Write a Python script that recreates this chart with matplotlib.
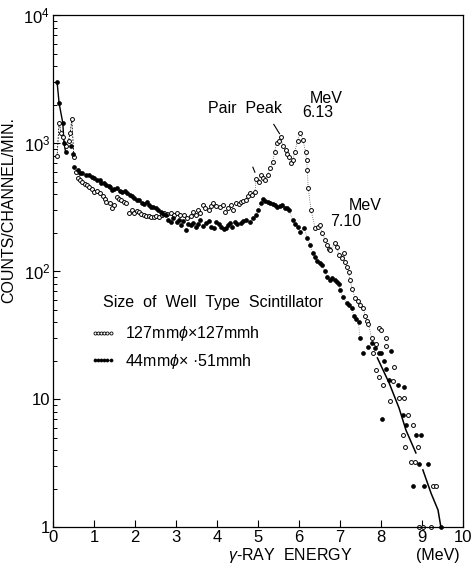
import numpy as np
import matplotlib
matplotlib.use("Agg")
import matplotlib.pyplot as plt
from matplotlib.lines import Line2D
from matplotlib.ticker import FixedLocator, NullFormatter

plt.rcParams['font.family'] = ['Liberation Sans', 'DejaVu Sans']
plt.rcParams['mathtext.fontset'] = 'custom'
plt.rcParams['mathtext.rm'] = 'Liberation Sans'
plt.rcParams['mathtext.it'] = 'Liberation Sans:italic'

# 44mm x 51mm crystal (filled dots): energy (MeV), counts/channel/min
small_e = [0.10, 0.15, 0.24, 0.27, 0.31, 0.43, 0.48, 0.51, 0.60, 0.65,
           0.72, 0.80, 0.89, 0.95, 1.01, 1.08, 1.14, 1.18, 1.25, 1.30,
           1.37, 1.40, 1.45, 1.50, 1.57, 1.63, 1.69, 1.75, 1.81, 1.87,
           1.93, 1.99, 2.05, 2.11, 2.17, 2.23, 2.29, 2.34, 2.40, 2.45,
           2.51, 2.57, 2.63, 2.69, 2.75, 2.80, 2.87, 2.94, 3.02, 3.07,
           3.12, 3.18, 3.24, 3.30, 3.36, 3.43, 3.50, 3.55, 3.60, 3.67,
           3.74, 3.80, 3.86, 3.92, 3.99, 4.05, 4.11, 4.17, 4.23, 4.28,
           4.32, 4.38, 4.44, 4.50, 4.59, 4.65, 4.71, 4.80, 4.88, 4.95,
           5.01, 5.07, 5.12, 5.18, 5.24, 5.30, 5.36, 5.41, 5.48, 5.55,
           5.60, 5.66, 5.72, 5.77, 5.85, 5.92, 5.97, 6.04, 6.13, 6.21,
           6.28, 6.34, 6.40, 6.45, 6.52, 6.57, 6.63, 6.69, 6.76, 6.82,
           6.88, 6.93, 6.98, 7.00, 7.08, 7.17, 7.22, 7.29, 7.34, 7.40,
           7.46, 7.49, 7.58, 7.70, 7.78, 7.85, 7.95, 8.02, 8.04, 8.07,
           8.14, 8.21, 8.26, 8.43, 8.55, 8.58, 8.62, 8.79, 8.87, 8.94,
           8.99, 9.06, 9.15, 9.47]
small_c = [3030, 2050, 1440, 1000, 850, 950, 820, 650, 615, 583,
           583, 562, 562, 545, 533, 520, 514, 487, 490, 470,
           460, 453, 429, 440, 445, 425, 414, 420, 407, 395,
           385, 375, 359, 360, 340, 335, 346, 328, 318, 320,
           311, 300, 289, 282, 274, 250, 241, 262, 241, 250,
           229, 245, 209, 236, 229, 240, 221, 232, 250, 226,
           237, 245, 221, 218, 241, 232, 221, 212, 217, 228,
           237, 222, 241, 232, 237, 245, 250, 244, 259, 274,
           300, 340, 370, 355, 350, 340, 333, 328, 316, 322,
           330, 311, 311, 300, 250, 235, 221, 203, 218, 181,
           160, 140, 129, 120, 115, 111, 100, 90, 85, 88,
           85, 82, 80, 71, 63, 56, 54, 52, 45, 42,
           40, 30, 23, 25.5, 27.4, 25, 23, 23, 7.0, 20,
           17.1, 14, 24, 12.9, 7.5, 12.4, 6.3, 2.1, 5.2, 3.1,
           5.2, 2.1, 3.1, 1.0]

# 127mm x 127mm crystal (open circles)
large_e = [0.10, 0.15, 0.20, 0.24, 0.33, 0.38, 0.42, 0.46, 0.51, 0.56,
           0.60, 0.65, 0.70, 0.77, 0.83, 0.89, 0.95, 1.01, 1.08, 1.14,
           1.21, 1.26, 1.30, 1.38, 1.43, 1.50, 1.57, 1.62, 1.67, 1.73,
           1.79, 1.86, 1.92, 1.98, 2.04, 2.10, 2.16, 2.22, 2.28, 2.34,
           2.40, 2.46, 2.52, 2.58, 2.65, 2.71, 2.79, 2.87, 2.95, 3.02,
           3.10, 3.19, 3.26, 3.36, 3.43, 3.50, 3.55, 3.60, 3.66, 3.72,
           3.80, 3.86, 3.91, 3.98, 4.08, 4.14, 4.20, 4.28, 4.34, 4.40,
           4.47, 4.53, 4.59, 4.65, 4.71, 4.76, 4.81, 4.87, 4.93, 4.96,
           5.02, 5.07, 5.12, 5.18, 5.24, 5.29, 5.36, 5.41, 5.46, 5.53,
           5.56, 5.62, 5.68, 5.72, 5.77, 5.80, 5.85, 5.90, 5.97, 6.04,
           6.10, 6.17, 6.19, 6.21, 6.23, 6.30, 6.40, 6.47, 6.52, 6.57,
           6.65, 6.70, 6.74, 6.77, 6.88, 6.93, 6.98, 7.06, 7.10, 7.13,
           7.17, 7.22, 7.25, 7.31, 7.37, 7.44, 7.49, 7.58, 7.62, 7.66,
           7.70, 7.78, 7.82, 7.88, 7.88, 7.97, 7.97, 8.00, 8.06, 8.12,
           8.14, 8.22, 8.30, 8.33, 8.45, 8.55, 8.57, 8.60, 8.67, 8.74,
           8.79, 8.84, 8.90, 8.94, 9.03, 9.23, 9.27, 9.35]
large_c = [790, 1450, 1200, 1110, 960, 1050, 1200, 1540, 780, 600,
           540, 520, 496, 478, 470, 453, 440, 414, 420, 407,
           385, 370, 346, 340, 311, 330, 379, 365, 359, 350,
           340, 284, 300, 284, 295, 289, 280, 274, 272, 269,
           265, 264, 270, 264, 275, 284, 280, 284, 276, 284,
           275, 274, 262, 269, 290, 274, 300, 284, 330, 311,
           300, 325, 340, 322, 316, 330, 289, 311, 330, 300,
           340, 336, 346, 352, 359, 390, 407, 395, 414, 530,
           500, 560, 540, 520, 560, 640, 710, 850, 1000, 1050,
           1110, 950, 880, 820, 780, 700, 735, 850, 1050, 1200,
           1070, 850, 740, 620, 450, 300, 218, 220, 228, 200,
           175, 160, 150, 146, 165, 155, 133, 128, 140, 118,
           107, 98, 85, 72, 62, 58, 54, 52, 45, 41,
           39, 30, 23, 27, 17, 36, 15, 35, 13, 26,
           30, 9.6, 13.8, 17.8, 10.3, 5.2, 10.3, 4.2, 7.5, 3.2,
           6.3, 3.2, 4.2, 1.0, 1.0, 1.0, 2.1, 2.1]

# hand-drawn curves through the high-energy tail of the small crystal
fit1_e = [7.92, 8.21, 8.45, 8.62, 8.86]
fit1_c = [21, 13.3, 8.5, 5.7, 3.8]
fit2_e = [9.03, 9.23, 9.40, 9.47]
fit2_c = [2.8, 1.84, 1.36, 1.0]

# short marks pointing at the pair peaks
pair_marks = [([5.39, 5.53], [1405, 1190]), ([4.88, 4.93], [650, 594])]

x_ticks = [0, 1, 2, 3, 4, 5, 6, 7, 8, 9, 10]
y_ticks = [1, 10, 100, 1000, 10000]
y_labels = ['1', '10', '$10^2$', '$10^3$', '$10^4$']
labels = ['127mm$\\phi$×127mmh', '44mm$\\phi$× ·51mmh']


def main():
    fig = plt.figure(figsize=(4.73, 5.68), dpi=100)
    ax = fig.add_axes([0.112, 0.072, 0.866, 0.901])

    se, sc = np.array(small_e), np.array(small_c)
    le, lc = np.array(large_e), np.array(large_c)

    # connecting lines
    ax.plot(se[:5], sc[:5], '-', color='k', lw=1.0)
    ax.plot(le[:9], lc[:9], '--', color='k', lw=0.6, dashes=(2, 1.5))
    m = (le > 4.9) & (le < 7.8)
    ax.plot(le[m], lc[m], ':', color='0.35', lw=0.6)
    m = (se > 4.9) & (se < 7.5)
    ax.plot(se[m], sc[m], ':', color='0.45', lw=0.5)
    ax.plot(fit1_e, fit1_c, '-', color='k', lw=1.1)
    ax.plot(fit2_e, fit2_c, '-', color='k', lw=1.1)
    for xs, ys in pair_marks:
        ax.plot(xs, ys, '-', color='k', lw=0.8)

    ax.plot(le, lc, 'o', ms=2.8, mfc='white', mec='k', mew=0.7,
            ls='none', clip_on=False)
    ax.plot(se, sc, 'o', ms=2.8, mfc='k', mec='k', mew=0.5,
            ls='none', clip_on=False)

    ax.set_yscale('log')
    ax.set_xlim(0, 10)
    ax.set_ylim(1, 10000)
    ax.set_xticks(x_ticks)
    ax.set_xticklabels([str(t) for t in x_ticks])
    ax.yaxis.set_major_locator(FixedLocator(y_ticks))
    ax.set_yticklabels(y_labels)
    ax.yaxis.set_minor_locator(FixedLocator(
        [k * 10.0 ** d for d in range(4) for k in range(2, 10)]))
    ax.yaxis.set_minor_formatter(NullFormatter())
    ax.tick_params(axis='both', which='major', direction='in', length=5,
                   width=0.8, labelsize=12, pad=2)
    ax.tick_params(axis='y', which='minor', direction='in', length=3,
                   width=0.7)
    for s in ax.spines.values():
        s.set_linewidth(0.9)

    ax.set_ylabel('COUNTS/CHANNEL/MIN.', fontsize=11.5, labelpad=2)
    ax.yaxis.set_label_coords(-0.09, 0.62)
    ax.text(0.58, -0.056, '$\\mathit{\\gamma}$-RAY  ENERGY', transform=ax.transAxes,
            ha='center', va='center', fontsize=11.5)
    ax.text(0.94, -0.056, '(MeV)', transform=ax.transAxes,
            ha='center', va='center', fontsize=11.5)

    ax.text(3.79, 1870, 'Pair  Peak', fontsize=11.5, va='center', ha='left')
    ax.text(6.28, 2240, 'MeV', fontsize=11.5, va='center', ha='left')
    ax.text(6.09, 1750, '6.13', fontsize=11.5, va='center', ha='left')
    ax.text(7.22, 328, 'MeV', fontsize=11.5, va='center', ha='left')
    ax.text(6.76, 246, '7.10', fontsize=11.5, va='center', ha='left')

    ax.text(0.121, 0.439, 'Size  of  Well  Type  Scintillator',
            transform=ax.transAxes, va='center', ha='left', fontsize=11.5)
    h1 = Line2D([], [], ls=':', lw=0.6, color='k', marker='o', ms=2.2,
                mfc='white', mec='k', mew=0.6)
    h2 = Line2D([], [], ls=':', lw=0.6, color='k', marker='o', ms=2.2,
                mfc='k', mec='k', mew=0.5)
    ax.legend([h1, h2], labels, loc='upper left', bbox_to_anchor=(0.09, 0.396),
              frameon=False, numpoints=6, handlelength=1.6, handletextpad=0.6,
              labelspacing=0.54, borderpad=0, borderaxespad=0, fontsize=11.5)

    fig.savefig('out.png', dpi=100)


if __name__ == '__main__':
    main()
